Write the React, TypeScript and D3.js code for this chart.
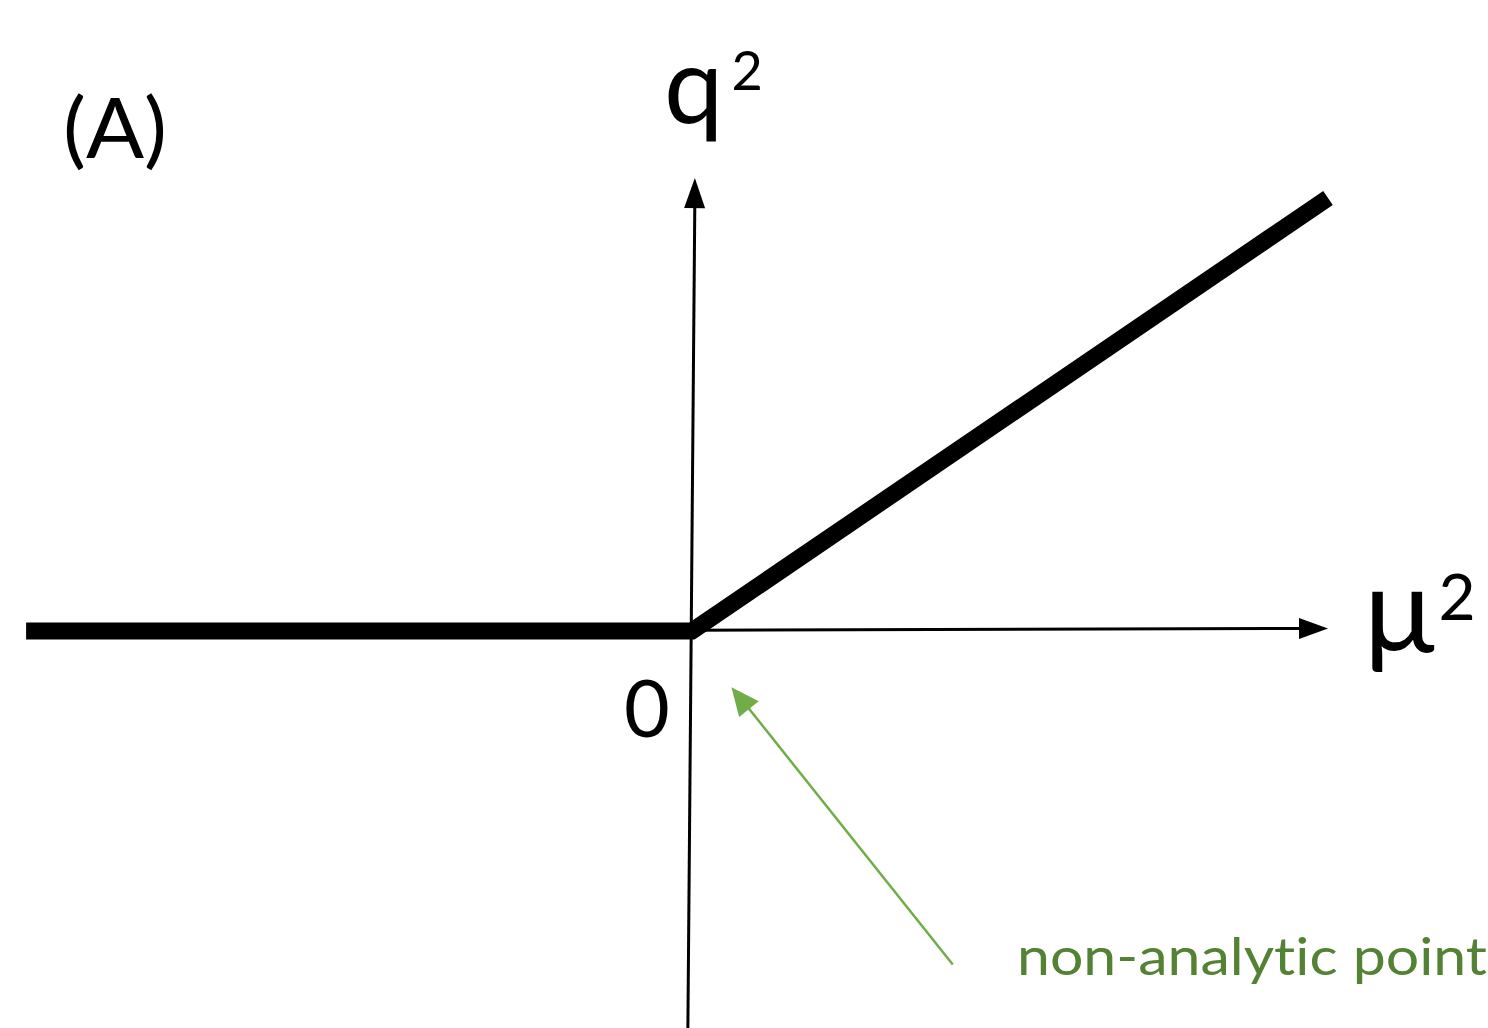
import React from "react";
import * as d3 from "d3";

// Order parameter q² as a function of μ²: zero below the transition, linear above it.
const curveMu = [-1.047, 0, 1.0];
const curveQ = [0.0, 0.0, 1.0];

// Axis ends in data units (the vertical axis leans a touch to the right).
const xAxisMu = [0.0, 1.0];
const xAxisQ = [0.002, 0.006];
const yAxisMu = [-0.0065, 0.0045];
const yAxisQ = [-0.917, 1.046];

// Annotation arrow from the label to the kink.
const noteMu = [0.41, 0.062];
const noteQ = [-0.77, -0.13];

const panelLabel = "(A)";
const xLabel = "μ";
const yLabel = "q";
const originLabel = "0";
const noteLabel = "non-analytic point";

const W = 1488;
const H = 1028;

const x = d3.scaleLinear().domain([0, 1]).range([692, 1328]);
const y = d3.scaleLinear().domain([0, 1]).range([631, 198]);

function arrowHead(x1: number, y1: number, x2: number, y2: number, len: number, half: number) {
  const a = Math.atan2(y2 - y1, x2 - x1);
  const bx = x2 - len * Math.cos(a);
  const by = y2 - len * Math.sin(a);
  const nx = -Math.sin(a);
  const ny = Math.cos(a);
  return `M${x2},${y2}L${bx + nx * half},${by + ny * half}L${bx - nx * half},${by - ny * half}Z`;
}

export default function App() {
  const pts = curveMu.map((m, i) => [x(m), y(curveQ[i])] as [number, number]);
  const line = d3.line()(pts) || "";

  const xa = [x(xAxisMu[0]), y(xAxisQ[0]), x(xAxisMu[1]), y(xAxisQ[1])];
  const ya = [x(yAxisMu[0]), y(yAxisQ[0]), x(yAxisMu[1]), y(yAxisQ[1])];
  const na = [x(noteMu[0]), y(noteQ[0]), x(noteMu[1]), y(noteQ[1])];

  const font = "Lato, 'Open Sans', sans-serif";
  const green = "#70ad47";
  const darkGreen = "#548235";
  const noLig = { fontVariantLigatures: "none", fontFeatureSettings: "'liga' 0, 'clig' 0" } as React.CSSProperties;

  return (
    <svg
      width={W}
      height={H}
      style={{ position: "absolute", left: 0, top: 0, display: "block", background: "#fff" }}
    >
      {/* axes */}
      <line x1={xa[0]} y1={xa[1]} x2={xa[2] - 20} y2={xa[3]} stroke="#000" strokeWidth={3} />
      <path d={arrowHead(xa[0], xa[1], xa[2], xa[3], 29, 10.5)} fill="#000" />
      <line x1={ya[0]} y1={ya[1]} x2={ya[2]} y2={ya[3] + 20} stroke="#000" strokeWidth={3} />
      <path d={arrowHead(ya[0], ya[1], ya[2], ya[3], 30, 10.5)} fill="#000" />

      {/* q² curve */}
      <path d={line} fill="none" stroke="#000" strokeWidth={17} strokeLinejoin="miter" strokeLinecap="butt" />

      {/* annotation arrow */}
      <line x1={na[0]} y1={na[1]} x2={na[2] + 10} y2={na[3] + 12} stroke={green} strokeWidth={2.5} />
      <path d={arrowHead(na[0], na[1], na[2], na[3], 28, 12.5)} fill={green} />

      {/* labels */}
      <text x={63} y={158} fontFamily={font} fontSize={84} fill="#000" textLength={104} lengthAdjust="spacingAndGlyphs">
        {panelLabel}
      </text>
      <text x={664} y={123} fontFamily={font} fontSize={106} fill="#000">
        {yLabel}
        <tspan fontSize={54} dy={-33} dx={8}>2</tspan>
      </text>
      <text x={1364} y={652} fontFamily={font} fontSize={118} fill="#000">
        {xLabel}
        <tspan fontSize={64} dy={-32} dx={4}>2</tspan>
      </text>
      <text x={624} y={737} fontFamily={font} fontSize={79} fill="#000">{originLabel}</text>
      <text
        x={1017}
        y={975}
        fontFamily={font}
        fontSize={53}
        fill={darkGreen}
        textLength={470}
        lengthAdjust="spacingAndGlyphs"
        style={noLig}
      >
        {noteLabel}
      </text>
    </svg>
  );
}
